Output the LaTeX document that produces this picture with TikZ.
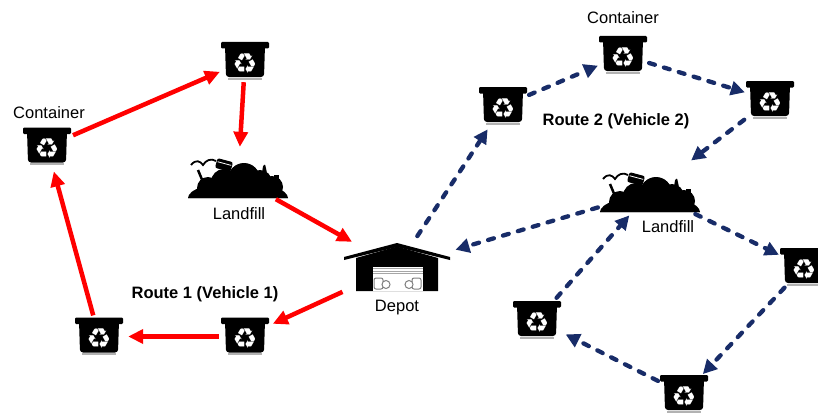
\documentclass[tikz,border=0pt]{standalone}
\usepackage{fontspec}
\setmainfont{Liberation Sans}
\newfontfamily\symbolfont{DejaVu Sans}
\usepackage{tikz}
\usetikzlibrary{arrows.meta}

\definecolor{routeblue}{RGB}{24,44,104}

\tikzset{
  pics/recyclebin/.style={code={
    \fill[rounded corners=1.2pt] (-24,-19) rectangle (24,-12.5);
    \fill[rounded corners=3pt] (-20,-16) -- (20,-16) -- (19,16) -- (-19,16) -- cycle;
    \fill[gray!60] (-17,16.5) rectangle (17,18.5);
    \node[white,inner sep=0pt,font=\symbolfont\fontsize{28}{28}\selectfont] at (0,2.5) {♻};
  }},
  pics/landfill/.style={code={
    \begin{scope}
      \clip (-52,-30) rectangle (52,20);
      \fill (0,20) ellipse [x radius=50, y radius=16];
      \fill (-30,10) circle [radius=11];
      \fill (-14,4) circle [radius=13];
      \fill (6,1) circle [radius=16];
      \fill (22,4) circle [radius=12];
      \fill (34,9) circle [radius=11];
    \end{scope}
    \draw[gray!50,line width=0.8pt] (-50,20.5) -- (50,20.5);
    % gull, pole, tyre and junk on top of the heap
    \draw[line width=1.8pt] (-47,-13) .. controls (-42,-19) and (-38,-17) .. (-35,-13)
      .. controls (-32,-18) and (-27,-20) .. (-22,-17);
    \draw[line width=2.5pt] (-40,-8) -- (-35,4);
    \begin{scope}[shift={(-14,-13)},rotate=-15]
      \fill[rounded corners=2pt] (-8,-5) rectangle (8,5);
      \draw[white,line width=0.8pt] (-7,-1.5) -- (7,-1.5);
    \end{scope}
    \fill[rounded corners=1pt] (24,-5) -- (25,-12) -- (27,-14) -- (29,-5) -- cycle;
    \fill (36,-3) rectangle (41,3);
  }},
  pics/garage/.style={code={
    \fill (-53,-10) -- (0,-24) -- (53,-10) -- (53,-7) -- (0,-20) -- (-53,-7) -- cycle;
    \fill (-41,-9) -- (0,-20.5) -- (41,-9) -- (41,24) -- (-41,24) -- cycle;
    \fill[white] (-24,0) rectangle (26,24);
    \foreach \y in {1.5,4,6.5}
      \draw[gray!70,line width=1pt] (-24,\y) -- (26,\y);
    \draw[gray,line width=1pt,rounded corners=2pt] (-23,11) rectangle (-14,22);
    \draw[gray,line width=1pt,fill=white] (-11,17.5) circle [radius=4];
    \draw[gray,line width=1pt,rounded corners=2pt] (15,11) rectangle (24,22);
    \draw[gray,line width=1pt,fill=white] (12,17.5) circle [radius=4];
  }}
}

\begin{document}
\begin{tikzpicture}[x=1pt,y=-1pt,
    font=\fontsize{16.5}{19}\selectfont,
    binbox/.style={minimum width=48pt,minimum height=38pt,inner sep=0pt},
    heapbox/.style={minimum width=100pt,minimum height=42pt,inner sep=0pt},
    depotbox/.style={minimum width=105pt,minimum height=48pt,inner sep=0pt},
    route1/.style={red,line width=4.5pt,-{Triangle[length=15pt,width=14pt]}},
    route2/.style={routeblue,line width=4.3pt,line cap=round,
      dash pattern=on 6pt off 9.5pt,-{Triangle[length=14pt,width=14pt]}},
    routelabel/.style={font=\fontsize{16.5}{19}\selectfont\bfseries}]
  \useasboundingbox (0,0) rectangle (818,412);

  % route 1
  \node[binbox] (r1a) at (47,146.5) {};
  \node[binbox] (r1b) at (245,61) {};
  \node[binbox] (r1c) at (245,336.5) {};
  \node[binbox] (r1d) at (99,336.5) {};
  \node[heapbox] (lf1) at (238,178) {};
  \node[depotbox] (depot) at (397,267) {};
  \foreach \n in {r1a,r1b,r1c,r1d}
    \pic at (\n) {recyclebin};
  \pic at (lf1) {landfill};
  \pic at (depot) {garage};

  % route 2
  \node[binbox] (r2a) at (503,106) {};
  \node[binbox] (r2b) at (623,55) {};
  \node[binbox] (r2c) at (770,100) {};
  \node[binbox] (r2d) at (804,267) {};
  \node[binbox] (r2e) at (684,394) {};
  \node[binbox] (r2f) at (537,320) {};
  \node[heapbox] (lf2) at (650,192) {};
  \foreach \n in {r2a,r2b,r2c,r2d,r2e,r2f}
    \pic at (\n) {recyclebin};
  \pic at (lf2) {landfill};

  \node (cont1) at (49,112.5) {Container};
  \node (cont2) at (623,17.5) {Container};
  \node (fill1) at (239,214) {Landfill};
  \node (fill2) at (668,226.5) {Landfill};
  \node (dep) at (397,308) {Depot};
  \node[routelabel] (lab1) at (205,294) {Route 1 (Vehicle 1)};
  \node[routelabel] (lab2) at (616,121) {Route 2 (Vehicle 2)};

  \draw[route1,shorten <=2pt,shorten >=1pt] (r1a) -- (r1b);
  \draw[route1,shorten <=2pt,shorten >=10pt] (r1b) -- (lf1);
  \draw[route1,shorten >=2pt] (lf1) -- (depot);
  \draw[route1,shorten <=2pt,shorten >=4pt] (depot) -- (r1c);
  \draw[route1,shorten <=2pt,shorten >=5pt] (r1c) -- (r1d);
  \draw[route1,shorten <=2pt,shorten >=6pt] (r1d) -- (r1a);

  \draw[route2,shorten <=8pt,shorten >=5pt] (depot) -- (r2a);
  \draw[route2,shorten <=2pt,shorten >=1pt] (r2a) -- (r2b);
  \draw[route2,shorten <=2pt,shorten >=1pt] (r2b) -- (r2c);
  \draw[route2,shorten <=2pt,shorten >=17pt] (r2c) -- (lf2);
  \draw[route2,shorten <=2pt,shorten >=6pt] (lf2) -- (depot);
  \draw[route2,shorten <=2pt,shorten >=1pt] (lf2) -- (r2d);
  \draw[route2,shorten <=2pt,shorten >=1pt] (r2d) -- (r2e);
  \draw[route2,shorten <=2pt,shorten >=5pt] (r2e) -- (r2f);
  \draw[route2,shorten <=4pt,shorten >=3pt] (r2f) -- (lf2);
\end{tikzpicture}
\end{document}
